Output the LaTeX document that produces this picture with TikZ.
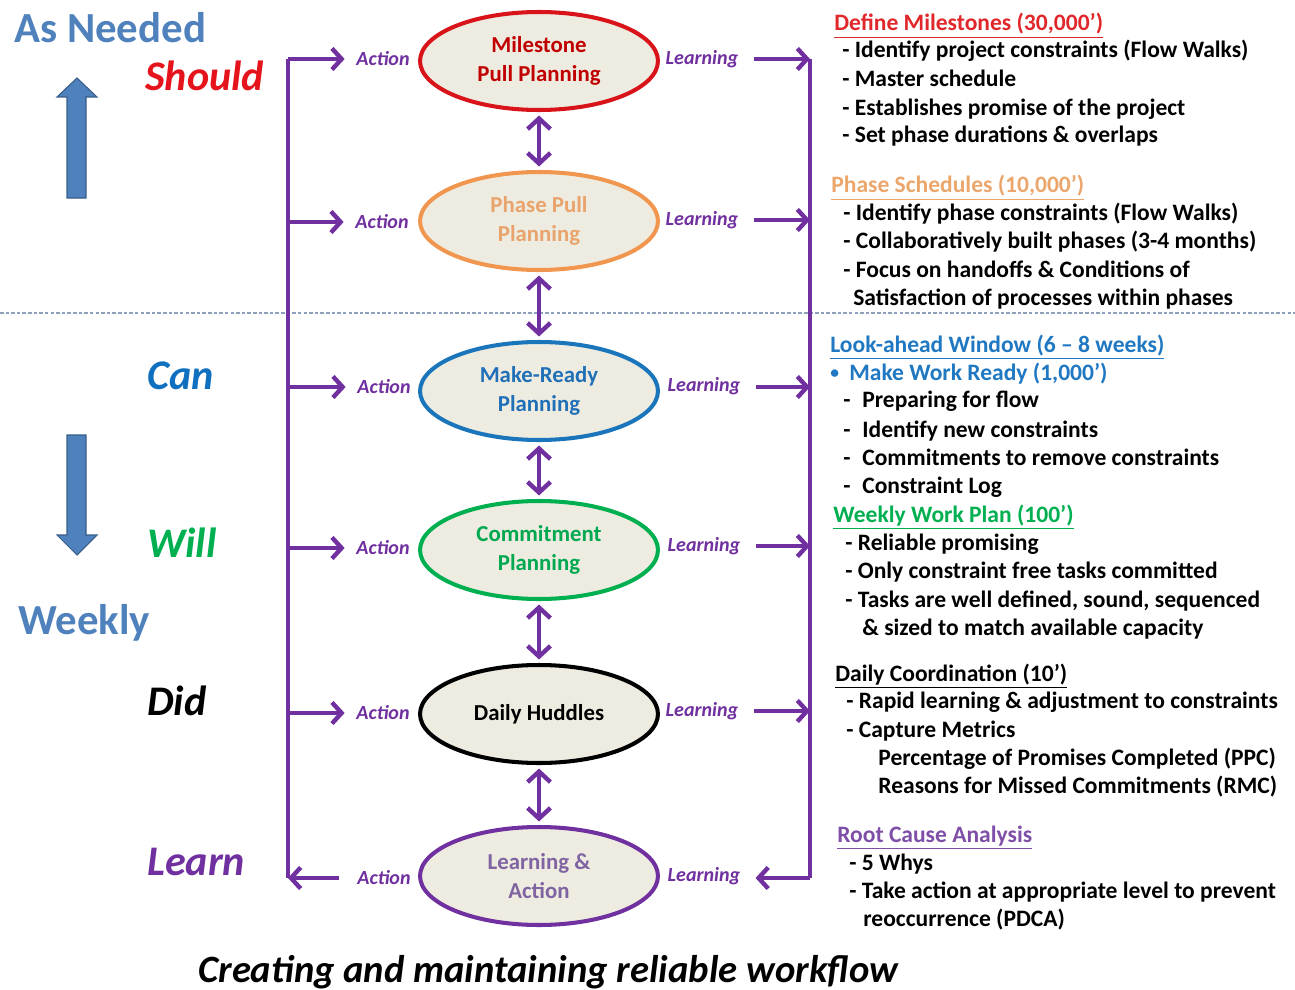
\documentclass[tikz,border=0pt]{standalone}
\usepackage{fontspec}
\setmainfont{Carlito}
\usetikzlibrary{arrows.meta,shapes.geometric}
\definecolor{purp}{HTML}{7030A0}
\definecolor{ellfill}{HTML}{EEECE1}
\definecolor{mredB}{HTML}{D8141A}
\definecolor{mredT}{HTML}{C00000}
\definecolor{orB}{HTML}{F0964E}
\definecolor{orT}{HTML}{E8A46C}
\definecolor{blB}{HTML}{1B75BB}
\definecolor{blT}{HTML}{2070B8}
\definecolor{grB}{HTML}{00B050}
\definecolor{grT}{HTML}{00A850}
\definecolor{puT}{HTML}{8064A2}
\definecolor{steel}{HTML}{4F81BD}
\definecolor{steelD}{HTML}{385D8A}
\definecolor{hRed}{HTML}{E0282C}
\definecolor{hOr}{HTML}{EBA66C}
\definecolor{hBl}{HTML}{1F78C1}
\definecolor{hGr}{HTML}{00B050}
\definecolor{hPu}{HTML}{7F4FA8}
\definecolor{shouldRed}{HTML}{E5141C}
\definecolor{canBl}{HTML}{1070C0}
\definecolor{dashC}{HTML}{8EA0BE}
\begin{document}
\begin{tikzpicture}[x=0.02cm,y=-0.02cm,
  ell/.style={ellipse, minimum width=4.76cm, minimum height=1.96cm, fill=ellfill,
     line width=2.3pt, align=center, inner sep=0pt,
     font=\fontsize{13}{16.4}\selectfont\bfseries},
  pline/.style={draw=purp, line width=2.5pt, line join=miter},
  parr/.style={pline, -{Straight Barb[length=5.5pt,width=12pt,line width=2.5pt]}},
  pdbl/.style={pline, {Straight Barb[length=6pt,width=13pt,line width=2.5pt]}-{Straight Barb[length=6pt,width=13pt,line width=2.5pt]}},
  albl/.style={text=purp, font=\fontsize{11.4}{14}\selectfont\bfseries\itshape, inner sep=0pt},
  big/.style={anchor=base west, inner sep=0pt, font=\fontsize{24.4}{28}\selectfont\bfseries},
  bigi/.style={anchor=base west, inner sep=0pt, font=\fontsize{24}{28}\selectfont\bfseries\itshape},
  rt/.style={anchor=base west, inner sep=0pt, font=\fontsize{13.4}{15}\selectfont\bfseries},
  blockarrow/.style={fill=steel, draw=steelD, line width=0.6pt}
]
\useasboundingbox (0,0) rectangle (1295,990);

% dashed separator
\draw[dashC, line width=1pt, dash pattern=on 2pt off 1.2pt] (0,313) -- (1295,313);

% left words
\node[big, text=steel] (asneeded) at (14,43) {As Needed};
\node[bigi, text=shouldRed] (should) at (145,91) {Should};
\node[bigi, text=canBl] (can) at (147,389) {Can};
\node[bigi, text=grB] (will) at (147,557) {Will};
\node[big, text=steel] (weekly) at (18,634) {Weekly};
\node[bigi, text=black] (did) at (147,715) {Did};
\node[bigi, text=purp] (learn) at (147,875) {Learn};

% block arrows
\draw[blockarrow] (67,198) -- (67,97) -- (57,97) -- (77,78) -- (97,97) -- (86,97) -- (86,198) -- cycle;
\draw[blockarrow] (67,435) -- (67,535) -- (57,535) -- (77,555) -- (97,535) -- (86,535) -- (86,435) -- cycle;

% ellipses
\node[ell, draw=mredB, text=mredT] (m) at (539,61) {Milestone\\Pull Planning};
\node[ell, draw=orB, text=orT] (p) at (539,221) {Phase Pull\\Planning};
\node[ell, draw=blB, text=blT] (r) at (539,391) {Make-Ready\\Planning};
\node[ell, draw=grB, text=grT] (c) at (539,550) {Commitment\\Planning};
\node[ell, draw=black, text=black] (d) at (539,714) {Daily Huddles};
\node[ell, draw=purp, text=puT] (la) at (539,876) {Learning \&\\Action};

% vertical double arrows
\foreach \a/\b in {m/p, p/r, r/c, c/d, d/la}
  \draw[pdbl, shorten <=2pt, shorten >=2pt] (\a.south) -- (\b.north);

% bus coordinates
\coordinate (L1) at (288,59);
\coordinate (L2) at (288,222);
\coordinate (L3) at (288,387);
\coordinate (L4) at (288,548);
\coordinate (L5) at (288,713);
\coordinate (L6) at (288,878);
\coordinate (R1) at (810,59);
\coordinate (R2) at (810,220);
\coordinate (R3) at (810,387);
\coordinate (R4) at (810,546);
\coordinate (R5) at (810,711);
\coordinate (R6) at (810,878);

% action / learning labels
\node[albl] (a1) at (383,59) {Action};
\node[albl] (a2) at (382,222) {Action};
\node[albl] (a3) at (384,387) {Action};
\node[albl] (a4) at (383,548) {Action};
\node[albl] (a5) at (383,713) {Action};
\node[albl] (a6) at (384,878) {Action};
\node[albl] (g1) at (702,59) {Learning};
\node[albl] (g2) at (702,220) {Learning};
\node[albl] (g3) at (704,386) {Learning};
\node[albl] (g4) at (704,546) {Learning};
\node[albl] (g5) at (702,711) {Learning};
\node[albl] (g6) at (704,876) {Learning};

% buses
\draw[pline] (L1) -- (L6);
\draw[pline] (R1) -- (R6);

% arrows
\foreach \i in {1,...,5}{
  \draw[parr, shorten >=6.5pt] (L\i) -- (a\i.west |- L\i);
  \draw[parr, shorten <=8.5pt] (g\i.east |- R\i) -- (R\i);
}
\draw[parr, shorten <=10pt] (a6.west |- L6) -- (L6);
\draw[parr, shorten >=8.5pt] (R6) -- (g6.east |- R6);

% right text
\node[rt, text=hRed] (t1) at (834,31) {\underline{Define Milestones (30,000’)}};
\node[rt] (t2) at (842,58) {- Identify project constraints (Flow Walks)};
\node[rt] (t3) at (842,87) {- Master schedule};
\node[rt] (t4) at (842,115) {- Establishes promise of the project};
\node[rt] (t5) at (842,143) {- Set phase durations \& overlaps};
\node[rt, text=hOr] (t6) at (831,193) {\underline{Phase Schedules (10,000’)}};
\node[rt] (t7) at (843,220) {- Identify phase constraints (Flow Walks)};
\node[rt] (t8) at (843,248) {- Collaboratively built phases (3-4 months)};
\node[rt] (t9) at (843,277) {- Focus on handoffs \& Conditions of};
\node[rt] (t10) at (853,305) {Satisfaction of processes within phases};
\node[rt, text=hBl] (t11) at (830,352) {\underline{Look-ahead Window (6 – 8 weeks)}};
\node[rt, text=hBl, font=\fontsize{10}{12}\selectfont\bfseries] (t12b) at (830,378) {•};
\node[rt, text=hBl] (t12) at (849,380) {Make Work Ready (1,000’)};
\node[rt] (t13b) at (843,407) {-};
\node[rt] (t13) at (862,407) {Preparing for flow};
\node[rt] (t14b) at (843,437) {-};
\node[rt] (t14) at (862,437) {Identify new constraints};
\node[rt] (t15b) at (843,465) {-};
\node[rt] (t15) at (862,465) {Commitments to remove constraints};
\node[rt] (t16b) at (843,493) {-};
\node[rt] (t16) at (862,493) {Constraint Log};
\node[rt, text=hGr] (t17) at (833,522) {\underline{Weekly Work Plan (100’)}};
\node[rt] (t18) at (845,550) {- Reliable promising};
\node[rt] (t19) at (845,578) {- Only constraint free tasks  committed};
\node[rt] (t20) at (845,607) {- Tasks are  well defined, sound, sequenced};
\node[rt] (t21) at (862,635) {\& sized to match available capacity};
\node[rt, text=black] (t22) at (835,681) {\underline{Daily Coordination (10’)}};
\node[rt] (t23) at (846,708) {- Rapid  learning \& adjustment to  constraints};
\node[rt] (t24) at (846,737) {- Capture Metrics};
\node[rt] (t25) at (878,765) {Percentage of Promises Completed (PPC)};
\node[rt] (t26) at (878,793) {Reasons for Missed Commitments (RMC)};
\node[rt, text=hPu] (t27) at (837,842) {\underline{Root Cause Analysis}};
\node[rt] (t28) at (849,870) {- 5 Whys};
\node[rt] (t29) at (849,898) {- Take  action at appropriate level to prevent};
\node[rt] (t30) at (863,926) {reoccurrence (PDCA)};

% caption
\node[anchor=base west, inner sep=0pt, font=\fontsize{22}{26}\selectfont\bfseries\itshape] (cap) at (198,982) {Creating and maintaining reliable workflow};
\end{tikzpicture}
\end{document}
